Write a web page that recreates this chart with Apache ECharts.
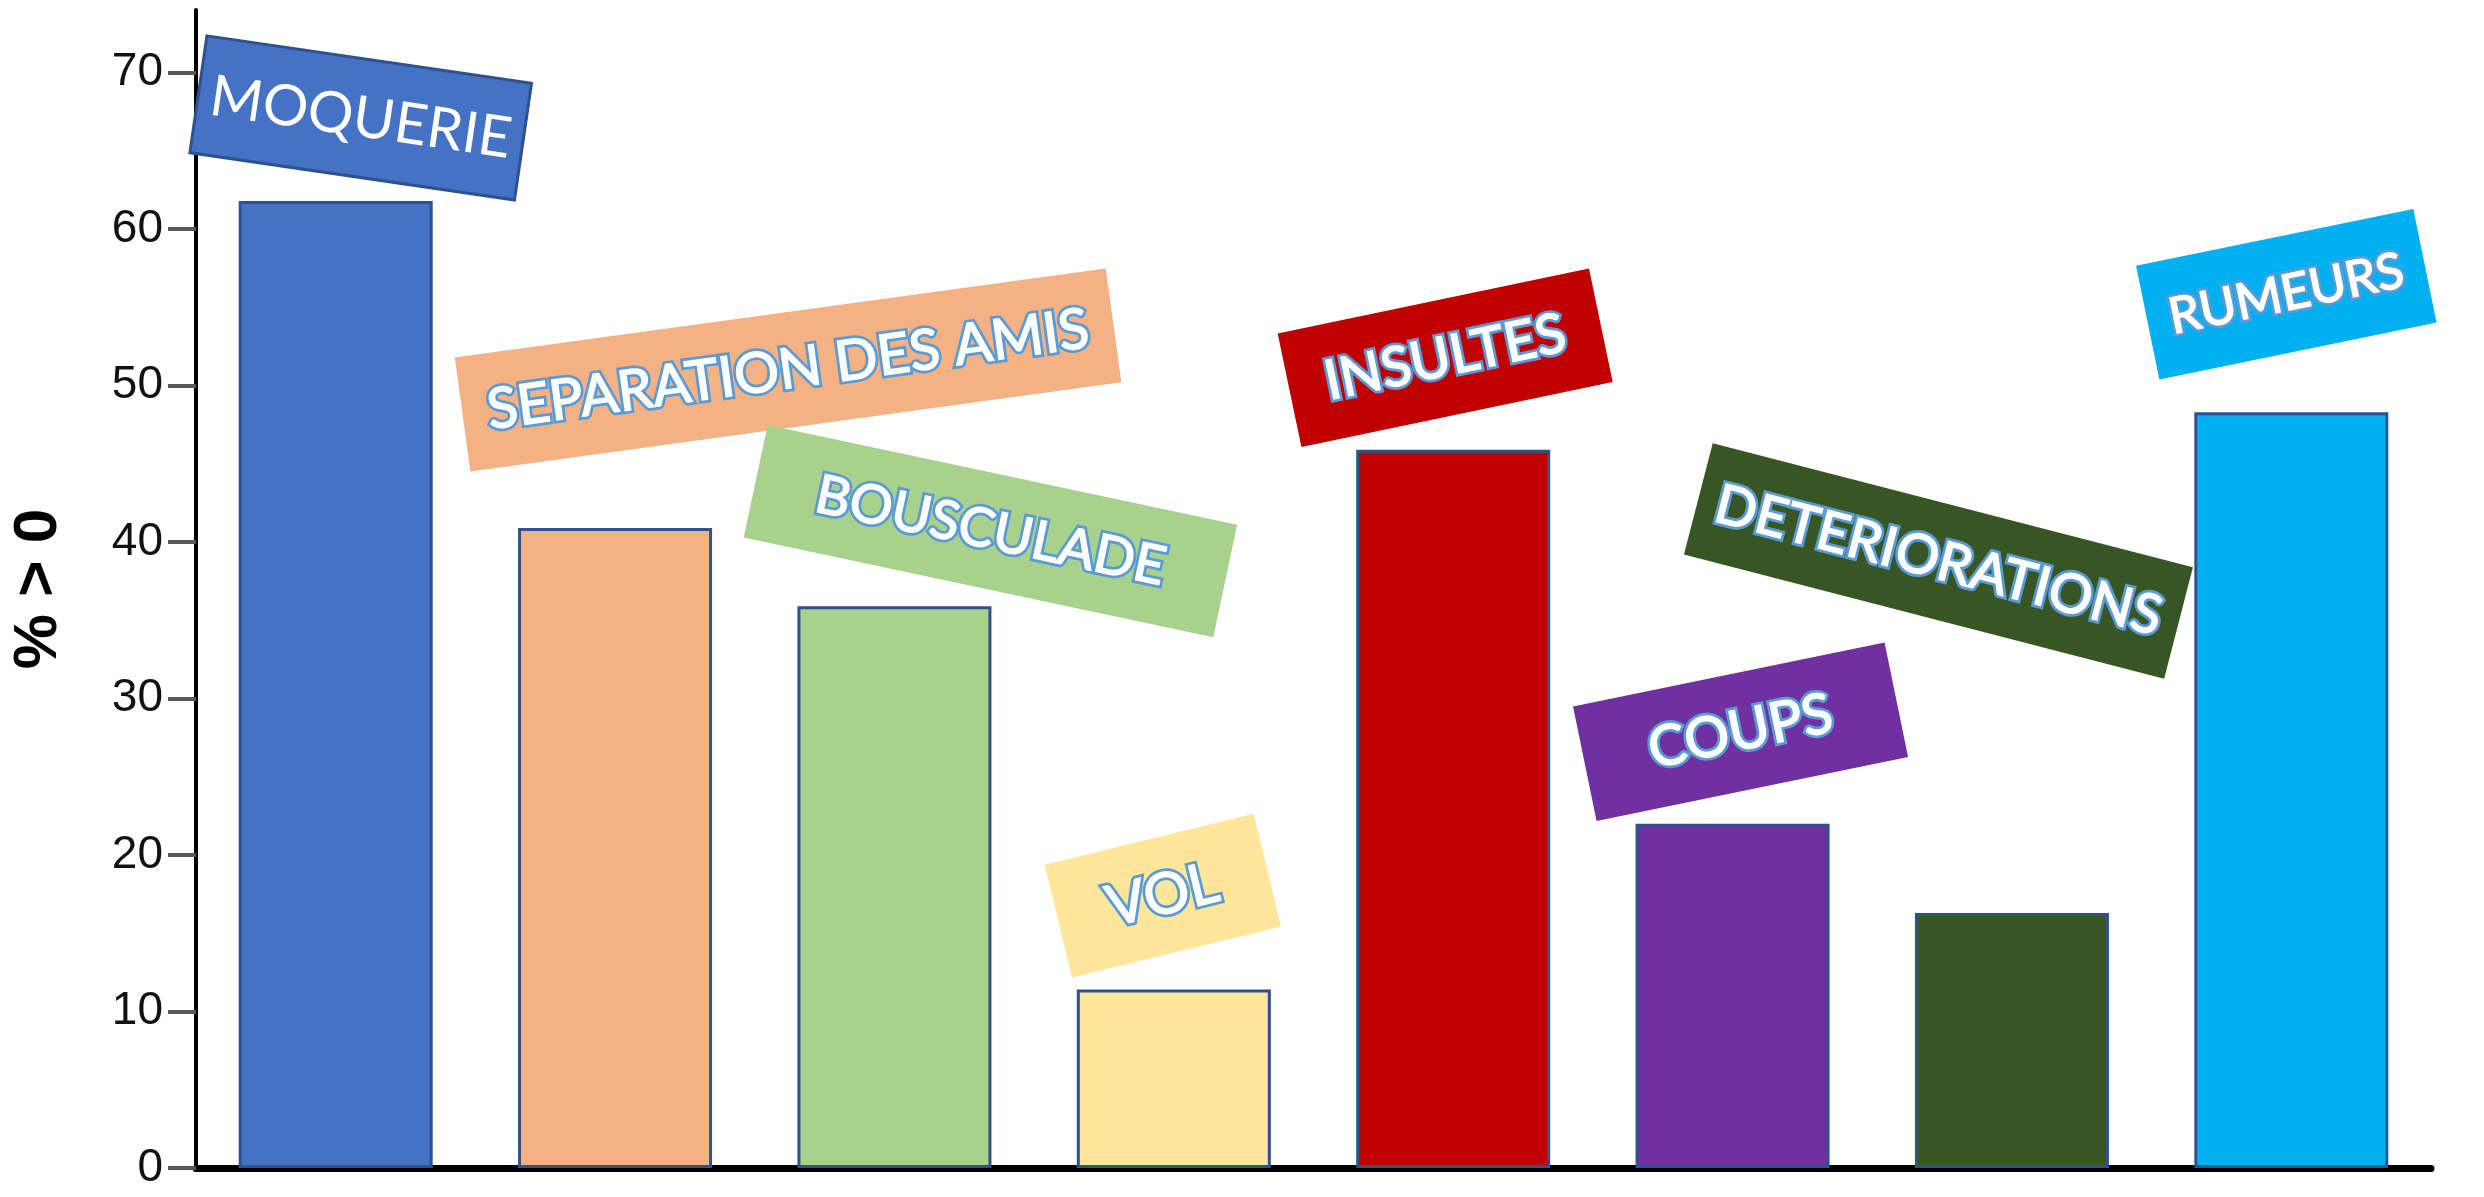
<!DOCTYPE html>
<html><head><meta charset="utf-8">
<script src="https://cdn.jsdelivr.net/npm/echarts@6/dist/echarts.min.js"></script>
<style>html,body{margin:0;padding:0;background:#fff}#c{width:2484px;height:1197px}</style>
</head><body><div id="c"></div>
<script>
// ---- data ----
const categories = ['MOQUERIE', 'SEPARATION DES AMIS', 'BOUSCULADE', 'VOL', 'INSULTES', 'COUPS', 'DETERIORATIONS', 'RUMEURS'];
const values = [61.8, 40.9, 35.9, 11.4, 45.9, 22.0, 16.3, 48.3];
const yTicks = [0, 10, 20, 30, 40, 50, 60, 70];
const axisName = '% > 0';

// ---- styles ----
const barColors = ['#4472C4', '#F4B183', '#A9D18E', '#FFE699', '#C00000', '#7030A0', '#375623', '#00B0F0'];
// rotated tag boxes: offset from bar top centre, box size, rotation (deg, CCW), font size
const tagLayout = [
  {dx: 25, dy: -83, w: 328, h: 118, rot: -8.3, fs: 57, outline: false, border: true},
  {dx: 173, dy: -158, w: 657, h: 115, rot: 7.8, fs: 56, outline: true, border: false},
  {dx: 96, dy: -75, w: 480, h: 115, rot: -12.0, fs: 53.5, outline: true, border: false},
  {dx: -11, dy: -94, w: 215, h: 116, rot: 13.7, fs: 57, outline: true, border: false},
  {dx: -8, dy: -92, w: 318, h: 116, rot: 11.8, fs: 55, outline: true, border: false},
  {dx: 8, dy: -92, w: 318, h: 117, rot: 11.6, fs: 56, outline: true, border: false},
  {dx: -73.5, dy: -352, w: 496, h: 115, rot: -14.5, fs: 54.5, outline: true, border: false},
  {dx: -5, dy: -118, w: 283, h: 116, rot: 11.6, fs: 50, outline: true, border: false}
];

const chart = echarts.init(document.getElementById('c'), null, {renderer: 'canvas'});
chart.setOption({
  animation: false,
  backgroundColor: '#fff',
  grid: {left: 186, right: 53, top: 10, bottom: 29},
  xAxis: {
    type: 'category',
    data: categories,
    axisLine: {show: true, lineStyle: {color: '#000', width: 7}},
    axisTick: {show: false},
    axisLabel: {show: false},
    splitLine: {show: false}
  },
  yAxis: {
    type: 'value',
    min: 0, max: 74, interval: 10,
    name: axisName,
    nameLocation: 'middle',
    nameGap: 126,
    nameTextStyle: {fontSize: 62, fontWeight: 'bold', fontFamily: 'Liberation Sans', color: '#000'},
    axisLine: {show: true, lineStyle: {color: '#000', width: 4}},
    axisTick: {show: true, length: 28, customValues: yTicks, lineStyle: {color: '#595959', width: 4}},
    axisLabel: {customValues: yTicks, margin: 33, fontSize: 46, fontFamily: 'Liberation Sans Narrow, Liberation Sans', color: '#111'},
    splitLine: {show: false}
  },
  series: [
    {
      type: 'bar',
      barWidth: 194,
      data: values.map((v, i) => ({value: v, itemStyle: {color: barColors[i]}})),
      itemStyle: {borderColor: '#2F528F', borderWidth: 3}
    },
    {
      type: 'custom',
      z: 10,
      silent: true,
      data: values.map((v, i) => [i, v]),
      renderItem: function (params, api) {
        const i = params.dataIndex;
        const p = api.coord([api.value(0), api.value(1)]);
        const t = tagLayout[i];
        const font = 'normal ' + t.fs + 'px Lato';
        const base = {text: categories[i], x: 0, y: 0, align: 'center', verticalAlign: 'middle', fill: '#fff', font: font};
        const children = [
          {type: 'rect', shape: {x: -t.w / 2, y: -t.h / 2, width: t.w, height: t.h},
           style: {fill: barColors[i], stroke: t.border ? '#2F528F' : null, lineWidth: t.border ? 3 : 0}}
        ];
        if (t.outline) {
          children.push({type: 'text', style: Object.assign({}, base, {
            stroke: '#5B9BD5', lineWidth: 7, strokeFirst: true, lineJoin: 'round',
            shadowColor: 'rgba(0,0,0,0.4)', shadowBlur: 5, shadowOffsetX: 2, shadowOffsetY: 3
          })});
          children.push({type: 'text', style: Object.assign({}, base, {
            stroke: '#fff', lineWidth: 1.5, strokeFirst: true, lineJoin: 'round'
          })});
        } else {
          children.push({type: 'text', style: base});
        }
        return {
          type: 'group',
          x: p[0] + t.dx, y: p[1] + t.dy,
          rotation: t.rot * Math.PI / 180,
          children: children
        };
      }
    }
  ]
});
</script>
</body></html>
